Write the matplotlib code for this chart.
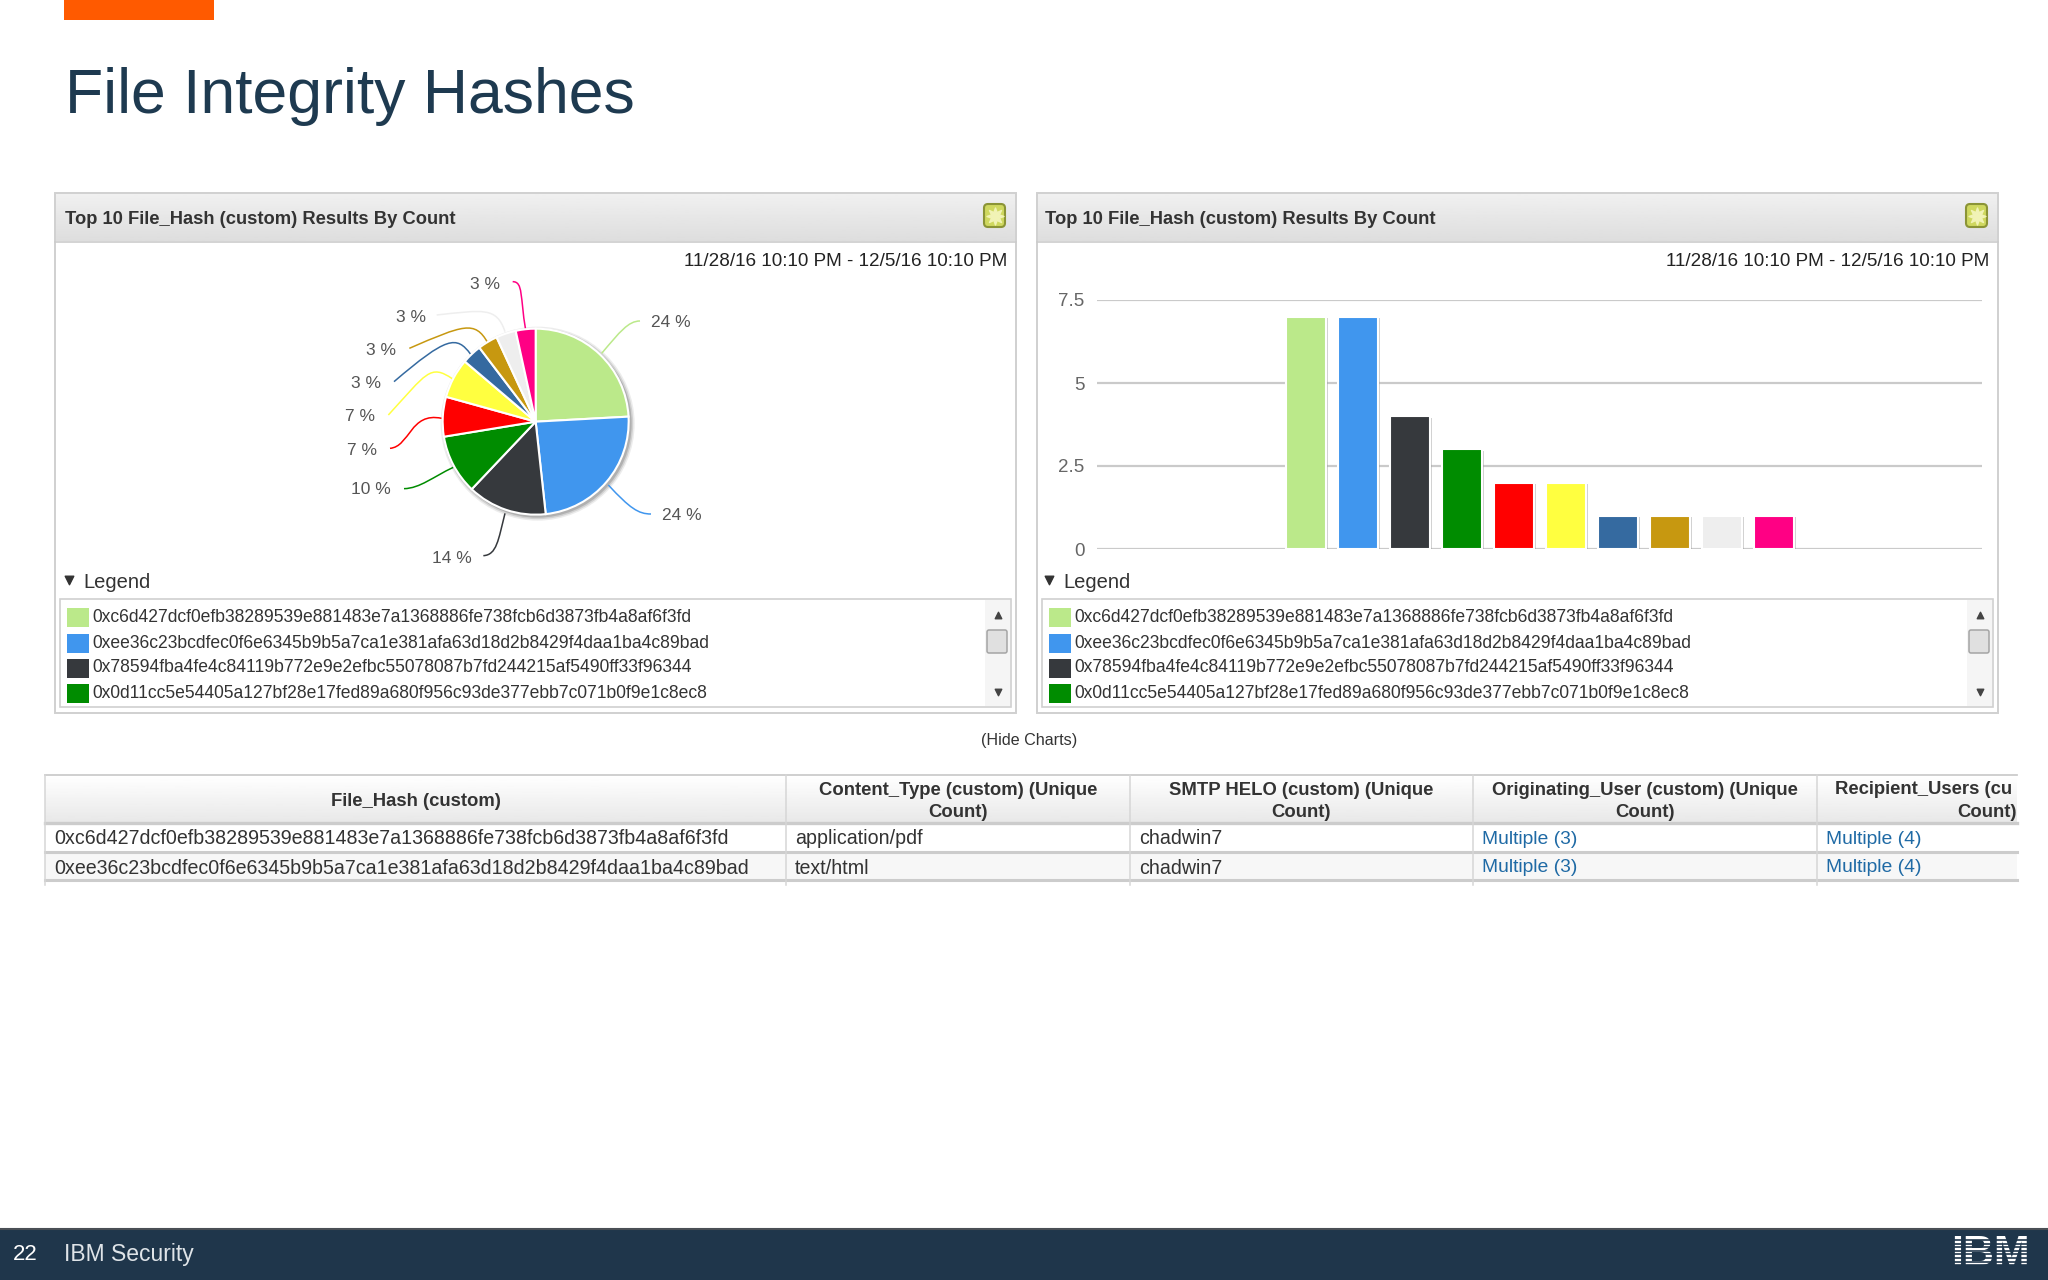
"""File Integrity Hashes slide: pie + bar of the top 10 hashes, legend boxes and result table."""
import numpy as np
import matplotlib
matplotlib.use("Agg")
import matplotlib.pyplot as plt
from matplotlib.patches import Rectangle, Circle, PathPatch, FancyBboxPatch
from matplotlib.path import Path
import matplotlib.patheffects as pe

plt.rcParams["font.family"] = ["Liberation Sans", "DejaVu Sans"]

W, H = 2048, 1280
NAVY = "#1f364b"
TEXT = "#333333"

counts = [7, 7, 4, 3, 2, 2, 1, 1, 1, 1]
pct_labels = ["24 %", "24 %", "14 %", "10 %", "7 %", "7 %", "3 %", "3 %", "3 %", "3 %"]
colors = ["#bbe98a", "#4096ee", "#36393d", "#008c00", "#ff0000",
          "#ffff40", "#356aa0", "#c79810", "#eeeeee", "#ff0084"]
y_ticks = [0, 2.5, 5, 7.5]
y_tick_labels = ["0", "2.5", "5", "7.5"]
hashes = ["0xc6d427dcf0efb38289539e881483e7a1368886fe738fcb6d3873fb4a8af6f3fd",
          "0xee36c23bcdfec0f6e6345b9b5a7ca1e381afa63d18d2b8429f4daa1ba4c89bad",
          "0x78594fba4fe4c84119b772e9e2efbc55078087b7fd244215af5490ff33f96344",
          "0x0d11cc5e54405a127bf28e17fed89a680f956c93de377ebb7c071b0f9e1c8ec8"]
headers = ["File_Hash (custom)", "Content_Type (custom) (Unique\nCount)",
           "SMTP HELO (custom) (Unique\nCount)", "Originating_User (custom) (Unique\nCount)"]
row1 = [hashes[0], "application/pdf", "chadwin7", "Multiple (3)", "Multiple (4)"]
row2 = [hashes[1], "text/html", "chadwin7", "Multiple (3)", "Multiple (4)"]

# pie leaders and labels, in crop pixels of the pie region (x/3+320, y/3+260)
leaders = [[(845, 280), (900, 215), (925, 183), (960, 183)],
           [(865, 675), (930, 745), (955, 762), (993, 762)],
           [(555, 760), (535, 840), (530, 885), (490, 887)],
           [(400, 622), (340, 650), (300, 685), (252, 686)],
           [(365, 475), (270, 455), (270, 560), (210, 565)],
           [(398, 357), (330, 310), (320, 340), (205, 465)],
           [(452, 283), (410, 225), (380, 230), (222, 365)],
           [(503, 248), (465, 180), (430, 195), (268, 265)],
           [(555, 215), (530, 140), (490, 150), (350, 165)],
           [(617, 210), (600, 110), (610, 65), (578, 65)]]
label_pos = [(1052, 187), (1085, 767), (395, 895), (152, 690), (125, 572),
             (120, 470), (138, 372), (182, 272), (272, 172), (495, 73)]


def px_axes(x0, y0, x1, y1):
    return fig.add_axes([x0 / W, 1 - y1 / H, (x1 - x0) / W, (y1 - y0) / H])


def crop(p):
    return (p[0] / 3 + 320, p[1] / 3 + 260)


def gradient(x0, y0, x1, y1, top, bottom):
    g = np.linspace(top, bottom, 32).reshape(-1, 1)
    bg.imshow(g, extent=(x0, x1, y1, y0), cmap="gray", vmin=0, vmax=1, aspect="auto", zorder=1)


def panel(dx, title_dx):
    bg.add_patch(Rectangle((55 + dx, 193), 961, 520, fc="white", ec="#d0d0d0", lw=1.4, zorder=0))
    gradient(56 + dx, 194, 1015 + dx, 241, 0.94, 0.87)
    bg.plot([55 + dx, 1016 + dx], [242, 242], color="#cccccc", lw=1.2, zorder=2)
    bg.text(65 + title_dx, 219, "Top 10 File_Hash (custom) Results By Count", fontsize=13.2, weight="bold",
            color=TEXT, va="center", zorder=3)
    bg.text(1007 + dx, 261, "11/28/16 10:10 PM - 12/5/16 10:10 PM", fontsize=13.6, color="#222222",
            ha="right", va="center", zorder=3)
    # gear button
    bg.add_patch(FancyBboxPatch((984 + dx, 204), 21, 23, boxstyle="round,pad=0,rounding_size=4",
                                fc="#cfd85f", ec="#8b9436", lw=1.5, zorder=3))
    bg.scatter([994.5 + dx], [215.5], marker=(8, 1, 0), s=150, color="#f1f3b5", zorder=4)
    # legend
    bg.scatter([69 + title_dx], [580], marker="v", s=38, color="#333333", zorder=3)
    bg.text(83 + title_dx, 582, "Legend", fontsize=14.5, color=TEXT, va="center", zorder=3)
    bg.add_patch(Rectangle((60 + dx, 599), 951, 108, fc="white", ec="#d0d0d0", lw=1.2, zorder=2))
    for name, col, y in zip(hashes, colors, [617, 643, 668, 693]):
        bg.add_patch(Rectangle((67 + dx, y - 9.5), 22, 19, fc=col, ec="none", zorder=3))
        bg.text(92.5 + dx, y, name, fontsize=12.65, color=TEXT, va="center", zorder=3)
    # scrollbar
    bg.add_patch(Rectangle((985 + dx, 600), 25, 106, fc="#f5f5f5", ec="none", zorder=3))
    bg.add_patch(FancyBboxPatch((987 + dx, 630), 20, 23, boxstyle="round,pad=0,rounding_size=2",
                                fc="#e0e0e0", ec="#a5a5a5", lw=1.1, zorder=4))
    bg.scatter([998 + dx], [615], marker="^", s=22, color="#444444", zorder=4)
    bg.scatter([998 + dx], [692], marker="v", s=22, color="#444444", zorder=4)


fig = plt.figure(figsize=(W / 100, H / 100), dpi=100, facecolor="white")
bg = fig.add_axes([0, 0, 1, 1])

# ---------------------------------------------------------------- slide furniture
bg.add_patch(Rectangle((64, 0), 150, 20, fc="#ff5a00", ec="none"))
bg.text(65, 97, "File Integrity Hashes", fontsize=45, color="#1e3a50", va="center")
panel(0, 0)
panel(982, 980)
bg.text(1029, 740, "(Hide Charts)", fontsize=11.6, color=TEXT, ha="center", va="center")

# footer
bg.add_patch(Rectangle((0, 1229), W, 51, fc=NAVY, ec="none", zorder=2))
bg.plot([0, W], [1229, 1229], color="#4a4f55", lw=1.5, zorder=3)
bg.text(13, 1255, "22", fontsize=16, color="white", va="center", zorder=3)
bg.text(64, 1255, "IBM Security", fontsize=16.5, color="#dfe4e8", va="center", zorder=3)
bg.text(1990, 1254, "IBM", fontsize=31, weight="bold", color="white", ha="center", va="center", zorder=3)
for y in np.arange(1240, 1270, 3.6):
    bg.plot([1945, 2035], [y, y], color=NAVY, lw=1.2, zorder=4)

# ---------------------------------------------------------------- pie leaders and labels
cx, cy = crop((647, 485))
r = 93
for grow, alpha in [(4, 0.12), (2.5, 0.2), (1, 0.3)]:
    bg.add_patch(Circle((cx + 2, cy + 2), r + grow, fc="#666666", ec="none", alpha=alpha, zorder=3))
for pts, col, pos, lab in zip(leaders, colors, label_pos, pct_labels):
    path = Path([crop(p) for p in pts], [Path.MOVETO, Path.CURVE4, Path.CURVE4, Path.CURVE4])
    bg.add_patch(PathPatch(path, fc="none", ec=col, lw=1.1, zorder=3))
    bg.text(*crop(pos), lab, fontsize=12.5, color="#555555", ha="center", va="center", zorder=3)

# ---------------------------------------------------------------- table
tx0, tx1 = 45, 2017
col_x = [45, 786, 1130, 1473, 1817, 2161]
gradient(tx0, 775, tx1, 823, 1.0, 0.91)
bg.add_patch(Rectangle((tx0, 852), tx1 - tx0, 28, fc="#f7f7f7", ec="none", zorder=1))
for y, lw in [(775, 1.3), (823, 2.4), (852, 2.2), (880, 2.2)]:
    bg.plot([tx0, tx1], [y, y], color="#cccccc", lw=lw, zorder=2)
for x in col_x[:-1]:
    bg.plot([x, x], [775, 885], color="#d6d6d6", lw=1.1, zorder=2)
for i, head in enumerate(headers):
    bg.text((col_x[i] + col_x[i + 1]) / 2, 801.5, head, fontsize=13.3, weight="bold", color=TEXT,
            ha="center", va="center", linespacing=1.45, zorder=3)
# last column runs off the table's right edge
bg.text(1835, 789.5, "Recipient_Users (cu", fontsize=13.3, weight="bold", color=TEXT, va="center", zorder=3)
bg.text(2017, 812.5, "Count)", fontsize=13.3, weight="bold", color=TEXT, ha="right", va="center", zorder=3)
for y, row in [(839, row1), (868, row2)]:
    for i, val in enumerate(row):
        col = "#1f6aa5" if val.startswith("Multiple") else TEXT
        fs = 13.9 if val.startswith("Multiple") else 14.15
        bg.text(col_x[i] + 9, y, val, fontsize=fs, color=col, va="center", zorder=3)

bg.set_xlim(0, W)
bg.set_ylim(H, 0)
bg.axis("off")

# ---------------------------------------------------------------- pie
ax_pie = px_axes(cx - r, cy - r, cx + r, cy + r)
ax_pie.pie(counts, colors=colors, startangle=90, counterclock=False, radius=1,
           wedgeprops={"edgecolor": "white", "linewidth": 1.5})
ax_pie.set_xlim(-1, 1)
ax_pie.set_ylim(-1, 1)

# ---------------------------------------------------------------- bars
bar_x0, bar_x1 = 1097, 1982
first, step = 1306, 52
ax_bar = px_axes(bar_x0, 300, bar_x1, 549)
ax_bar.patch.set_alpha(0)
bars = ax_bar.bar(range(len(counts)), counts, width=0.78, color=colors, edgecolor="white", linewidth=1.5)
for b in bars:
    b.set_path_effects([pe.SimplePatchShadow(offset=(1.5, -1), shadow_rgbFace="#999999", alpha=0.45),
                        pe.Normal()])
ax_bar.set_xlim((bar_x0 - first) / step, (bar_x1 - first) / step)
ax_bar.set_ylim(0, 7.5)
ax_bar.set_yticks(y_ticks, y_tick_labels, fontsize=13.5, color="#666666")
ax_bar.set_xticks([])
ax_bar.tick_params(axis="y", length=0, pad=9)
ax_bar.grid(axis="y", color="#cacaca", lw=1.6)
ax_bar.set_axisbelow(True)
for s in ax_bar.spines.values():
    s.set_visible(False)

fig.savefig("out.png", dpi=100)
